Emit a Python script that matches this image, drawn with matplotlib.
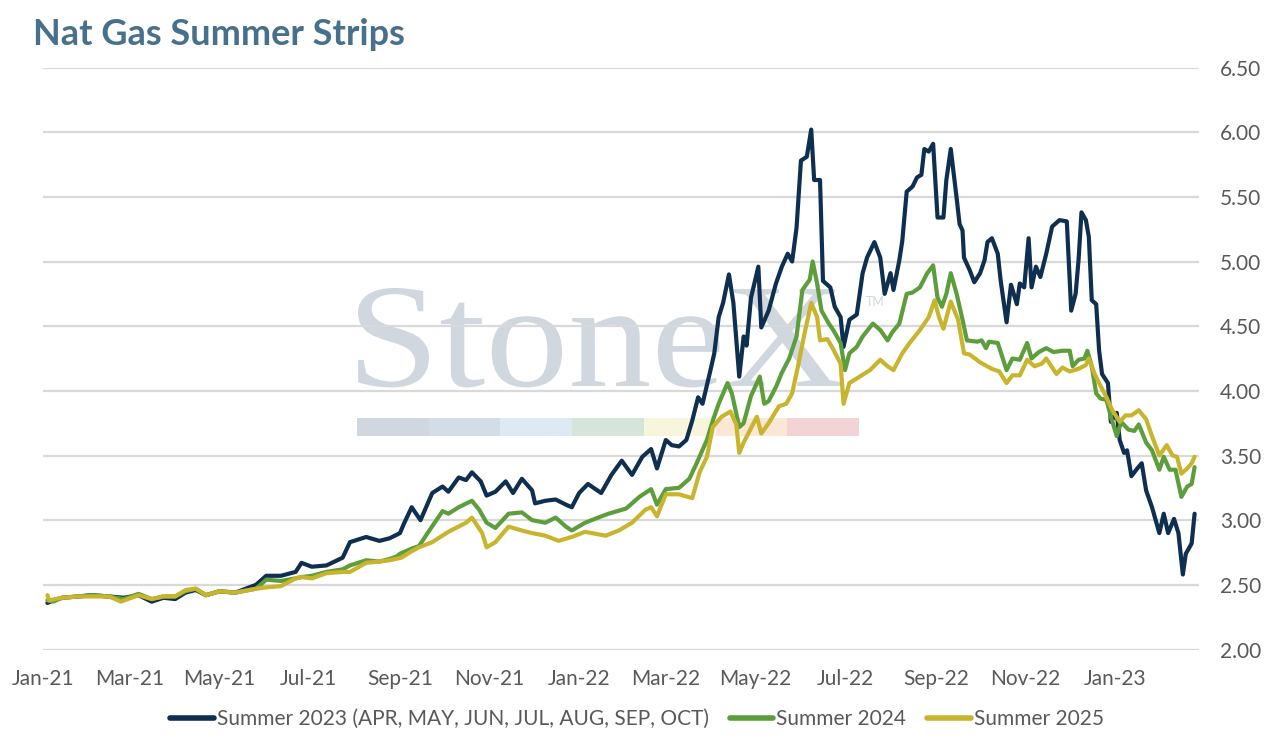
import matplotlib
matplotlib.use("Agg")
import matplotlib.pyplot as plt
import matplotlib.dates as mdates
from matplotlib.patches import Rectangle, PathPatch
from matplotlib.textpath import TextPath
from matplotlib.font_manager import FontProperties
from matplotlib.transforms import Affine2D
from matplotlib.ticker import FormatStrFormatter
import pandas as pd

# ---------------- data ----------------
title = "Nat Gas Summer Strips"
series_names = ["Summer 2023 (APR, MAY, JUN, JUL, AUG, SEP, OCT)", "Summer 2024", "Summer 2025"]

s23_dates = ["2021-01-04","2021-01-08","2021-01-14","2021-01-25","2021-02-03","2021-02-15","2021-02-25","2021-03-07",
    "2021-03-16","2021-03-24","2021-04-01","2021-04-08","2021-04-15","2021-04-22","2021-05-01","2021-05-12",
    "2021-05-26","2021-06-02","2021-06-12","2021-06-22","2021-06-26","2021-07-03","2021-07-13","2021-07-24",
    "2021-07-29","2021-08-09","2021-08-18","2021-08-25","2021-09-01","2021-09-04","2021-09-09","2021-09-15",
    "2021-09-23","2021-09-30","2021-10-04","2021-10-11","2021-10-16","2021-10-20","2021-10-26","2021-10-30",
    "2021-11-05","2021-11-12","2021-11-17","2021-11-23","2021-11-30","2021-12-02","2021-12-09","2021-12-16",
    "2021-12-23","2021-12-27","2022-01-01","2022-01-07","2022-01-16","2022-01-23","2022-01-30","2022-02-06",
    "2022-02-13","2022-02-19","2022-02-23","2022-03-01","2022-03-05","2022-03-10","2022-03-15","2022-03-19",
    "2022-03-23","2022-03-26","2022-03-31","2022-04-03","2022-04-06","2022-04-09","2022-04-13","2022-04-16",
    "2022-04-20","2022-04-23","2022-04-25","2022-04-28","2022-05-03","2022-05-05","2022-05-10","2022-05-15",
    "2022-05-19","2022-05-23","2022-05-26","2022-05-29","2022-06-01","2022-06-05","2022-06-08","2022-06-10",
    "2022-06-14","2022-06-16","2022-06-21","2022-06-24","2022-06-28","2022-06-30","2022-07-04","2022-07-09",
    "2022-07-13","2022-07-16","2022-07-21","2022-07-25","2022-07-28","2022-08-01","2022-08-03","2022-08-07",
    "2022-08-09","2022-08-12","2022-08-16","2022-08-19","2022-08-22","2022-08-24","2022-08-27","2022-08-30",
    "2022-09-02","2022-09-06","2022-09-08","2022-09-11","2022-09-15","2022-09-17","2022-09-19","2022-09-20",
    "2022-09-24","2022-09-27","2022-10-01","2022-10-04","2022-10-06","2022-10-09","2022-10-13","2022-10-15",
    "2022-10-19","2022-10-22","2022-10-26","2022-10-28","2022-10-31","2022-11-03","2022-11-05","2022-11-08",
    "2022-11-11","2022-11-15","2022-11-19","2022-11-24","2022-11-29","2022-12-02","2022-12-05","2022-12-07",
    "2022-12-09","2022-12-12","2022-12-14","2022-12-16","2022-12-19","2022-12-21","2022-12-23","2022-12-27",
    "2022-12-29","2023-01-02","2023-01-04","2023-01-07","2023-01-09","2023-01-12","2023-01-16","2023-01-19",
    "2023-01-22","2023-01-26","2023-01-31","2023-02-03","2023-02-06","2023-02-10","2023-02-13","2023-02-16",
    "2023-02-18","2023-02-22","2023-02-24"]
s23_values = [2.36,2.38,2.40,2.41,2.42,2.41,2.40,2.42,
    2.37,2.40,2.39,2.44,2.46,2.42,2.45,2.44,
    2.50,2.57,2.57,2.60,2.67,2.64,2.65,2.71,
    2.83,2.87,2.84,2.86,2.90,2.98,3.10,3.00,
    3.21,3.26,3.22,3.33,3.31,3.37,3.30,3.19,
    3.22,3.30,3.21,3.32,3.23,3.13,3.15,3.16,
    3.12,3.10,3.21,3.28,3.21,3.35,3.46,3.35,
    3.49,3.55,3.40,3.62,3.58,3.57,3.62,3.77,
    3.95,3.90,4.14,4.29,4.57,4.68,4.90,4.68,
    4.11,4.42,4.35,4.72,4.96,4.49,4.62,4.83,
    4.96,5.06,5.00,5.26,5.78,5.81,6.02,5.63,
    5.63,4.85,4.80,4.65,4.57,4.34,4.55,4.59,
    4.91,5.03,5.15,5.03,4.75,4.91,4.78,5.01,
    5.16,5.54,5.58,5.65,5.67,5.87,5.85,5.91,
    5.34,5.34,5.63,5.87,5.49,5.29,5.24,5.03,
    4.93,4.84,4.91,5.01,5.15,5.18,5.06,4.85,
    4.53,4.82,4.67,4.83,4.80,5.18,4.80,4.96,
    4.88,5.06,5.27,5.32,5.31,4.62,4.75,5.01,
    5.38,5.32,5.19,4.70,4.67,4.31,4.13,4.06,
    3.76,3.83,3.62,3.52,3.54,3.34,3.40,3.44,
    3.23,3.10,2.90,3.05,2.90,3.01,2.90,2.58,
    2.74,2.82,3.05]

s24_dates = ["2021-01-04","2021-01-08","2021-01-14","2021-01-25","2021-02-03","2021-02-15","2021-02-25","2021-03-07",
    "2021-03-16","2021-03-24","2021-04-01","2021-04-08","2021-04-15","2021-04-22","2021-05-01","2021-05-12",
    "2021-05-26","2021-06-02","2021-06-12","2021-06-22","2021-06-26","2021-07-03","2021-07-13","2021-07-24",
    "2021-07-29","2021-08-09","2021-08-18","2021-08-25","2021-08-30","2021-09-01","2021-09-09","2021-09-14",
    "2021-09-21","2021-09-30","2021-10-04","2021-10-11","2021-10-20","2021-10-25","2021-10-30","2021-11-05",
    "2021-11-14","2021-11-23","2021-11-30","2021-12-09","2021-12-16","2021-12-23","2021-12-27","2022-01-05",
    "2022-01-14","2022-01-21","2022-02-02","2022-02-11","2022-02-19","2022-02-23","2022-03-01","2022-03-10",
    "2022-03-17","2022-03-22","2022-03-29","2022-04-02","2022-04-06","2022-04-12","2022-04-15","2022-04-20",
    "2022-04-23","2022-04-28","2022-05-04","2022-05-07","2022-05-10","2022-05-15","2022-05-19","2022-05-24",
    "2022-05-29","2022-06-02","2022-06-07","2022-06-09","2022-06-12","2022-06-15","2022-06-20","2022-06-23",
    "2022-06-28","2022-07-01","2022-07-04","2022-07-09","2022-07-13","2022-07-20","2022-07-25","2022-07-30",
    "2022-08-02","2022-08-07","2022-08-12","2022-08-16","2022-08-21","2022-08-26","2022-08-30","2022-09-02",
    "2022-09-05","2022-09-08","2022-09-11","2022-09-15","2022-09-19","2022-09-22","2022-09-29","2022-10-02",
    "2022-10-05","2022-10-07","2022-10-13","2022-10-19","2022-10-23","2022-10-28","2022-11-02","2022-11-05",
    "2022-11-10","2022-11-15","2022-11-20","2022-11-26","2022-12-01","2022-12-03","2022-12-07","2022-12-11",
    "2022-12-13","2022-12-16","2022-12-19","2022-12-22","2022-12-26","2022-12-29","2023-01-02","2023-01-05",
    "2023-01-10","2023-01-14","2023-01-17","2023-01-22","2023-01-26","2023-01-31","2023-02-03","2023-02-07",
    "2023-02-11","2023-02-15","2023-02-19","2023-02-22","2023-02-24"]
s24_values = [2.38,2.37,2.40,2.41,2.42,2.41,2.39,2.43,
    2.39,2.41,2.41,2.45,2.47,2.42,2.45,2.44,
    2.47,2.54,2.53,2.55,2.56,2.57,2.60,2.62,
    2.65,2.69,2.68,2.70,2.72,2.74,2.78,2.80,
    2.92,3.07,3.05,3.10,3.15,3.08,2.98,2.94,
    3.05,3.06,3.00,2.98,3.02,2.95,2.92,2.98,
    3.02,3.05,3.09,3.18,3.24,3.12,3.24,3.25,
    3.32,3.44,3.62,3.77,3.90,4.06,3.98,3.72,
    3.75,3.96,4.11,3.90,3.92,4.03,4.14,4.25,
    4.42,4.78,4.86,5.00,4.83,4.62,4.52,4.47,
    4.37,4.16,4.29,4.34,4.42,4.52,4.47,4.39,
    4.45,4.52,4.75,4.76,4.80,4.91,4.97,4.72,
    4.65,4.75,4.91,4.75,4.55,4.39,4.38,4.39,
    4.33,4.38,4.37,4.16,4.25,4.24,4.37,4.25,
    4.30,4.33,4.30,4.31,4.31,4.19,4.24,4.25,
    4.31,4.19,3.98,3.94,3.93,3.80,3.65,3.76,
    3.70,3.69,3.74,3.60,3.54,3.39,3.49,3.39,
    3.39,3.18,3.26,3.28,3.41]

s25_dates = ["2021-01-04","2021-01-05","2021-01-14","2021-01-25","2021-02-03","2021-02-15","2021-02-23","2021-03-07",
    "2021-03-16","2021-03-24","2021-04-01","2021-04-08","2021-04-15","2021-04-22","2021-05-01","2021-05-12",
    "2021-05-26","2021-06-02","2021-06-12","2021-06-22","2021-06-26","2021-07-03","2021-07-13","2021-07-24",
    "2021-07-29","2021-08-09","2021-08-18","2021-08-25","2021-09-02","2021-09-09","2021-09-14","2021-09-23",
    "2021-10-04","2021-10-16","2021-10-20","2021-10-27","2021-10-30","2021-11-05","2021-11-14","2021-11-23",
    "2021-11-30","2021-12-09","2021-12-18","2021-12-27","2022-01-05","2022-01-19","2022-01-28","2022-02-06",
    "2022-02-15","2022-02-19","2022-02-23","2022-03-01","2022-03-10","2022-03-19","2022-03-24","2022-03-29",
    "2022-04-02","2022-04-08","2022-04-14","2022-04-18","2022-04-20","2022-04-23","2022-05-02","2022-05-05",
    "2022-05-10","2022-05-17","2022-05-22","2022-05-26","2022-05-30","2022-06-03","2022-06-08","2022-06-12",
    "2022-06-14","2022-06-19","2022-06-23","2022-06-28","2022-06-30","2022-07-04","2022-07-11","2022-07-18",
    "2022-07-25","2022-07-30","2022-08-03","2022-08-09","2022-08-14","2022-08-21","2022-08-27","2022-08-31",
    "2022-09-03","2022-09-06","2022-09-11","2022-09-16","2022-09-20","2022-09-24","2022-10-01","2022-10-09",
    "2022-10-14","2022-10-19","2022-10-23","2022-10-28","2022-11-02","2022-11-07","2022-11-12","2022-11-15",
    "2022-11-22","2022-11-26","2022-12-01","2022-12-07","2022-12-12","2022-12-14","2022-12-18","2022-12-21",
    "2022-12-26","2022-12-30","2023-01-04","2023-01-08","2023-01-12","2023-01-17","2023-01-22","2023-01-26",
    "2023-01-31","2023-02-05","2023-02-09","2023-02-12","2023-02-15","2023-02-19","2023-02-22","2023-02-24"]
s25_values = [2.42,2.38,2.40,2.41,2.41,2.41,2.37,2.42,
    2.39,2.41,2.41,2.46,2.47,2.42,2.45,2.44,
    2.47,2.48,2.49,2.55,2.56,2.55,2.59,2.60,
    2.60,2.67,2.68,2.69,2.71,2.76,2.79,2.83,
    2.91,2.98,3.02,2.90,2.79,2.83,2.95,2.92,
    2.90,2.88,2.84,2.87,2.91,2.88,2.92,2.98,
    3.08,3.10,3.03,3.20,3.20,3.17,3.37,3.49,
    3.72,3.80,3.84,3.74,3.52,3.60,3.80,3.67,
    3.75,3.88,3.90,3.98,4.19,4.42,4.68,4.57,
    4.39,4.40,4.32,4.21,3.90,4.06,4.11,4.16,
    4.24,4.19,4.16,4.29,4.37,4.47,4.57,4.70,
    4.57,4.48,4.69,4.55,4.29,4.28,4.22,4.17,
    4.15,4.06,4.12,4.12,4.24,4.19,4.21,4.25,
    4.13,4.18,4.15,4.17,4.20,4.25,4.13,4.06,
    3.95,3.85,3.76,3.81,3.81,3.85,3.78,3.65,
    3.50,3.58,3.50,3.49,3.36,3.40,3.44,3.49]

y_ticks = [2.00, 2.50, 3.00, 3.50, 4.00, 4.50, 5.00, 5.50, 6.00, 6.50]
x_start, x_end = "2021-01-01", "2023-02-27"

# ---------------- style ----------------
colors = ["#0E2F50", "#5C9E3C", "#C9B42E"]
text_grey = "#595959"
title_color = "#46708B"
grid_color = "#D9D9D9"
wm_color = "#D0D7DF"
bar_colors = ["#D1D7DF", "#D3DDE7", "#DDEAF3", "#D6E5DB", "#F8F5DD", "#FAE7D5", "#F2D4D7"]

plt.rcParams["font.family"] = ["Lato", "DejaVu Sans"]

W, H = 1274, 739
fig = plt.figure(figsize=(W / 100, H / 100), dpi=100)
ax_l, ax_r, ax_t, ax_b = 43, 1199, 67.5, 649.5
ax = fig.add_axes([ax_l / W, 1 - ax_b / H, (ax_r - ax_l) / W, (ax_b - ax_t) / H])

series = [(s23_dates, s23_values), (s24_dates, s24_values), (s25_dates, s25_values)]
for (d, v), c, name in zip(series, colors, series_names):
    ax.plot(pd.to_datetime(d), v, color=c, lw=3.0, label=name, zorder=3,
            solid_joinstyle="round", solid_capstyle="round")

ax.set_ylim(y_ticks[0], y_ticks[-1])
ax.set_xlim(pd.Timestamp(x_start), pd.Timestamp(x_end))
ax.set_yticks(y_ticks)
ax.yaxis.set_major_formatter(FormatStrFormatter("%.2f"))
ax.yaxis.tick_right()
ax.xaxis.set_major_locator(mdates.MonthLocator(bymonth=[1, 3, 5, 7, 9, 11]))
ax.xaxis.set_major_formatter(mdates.DateFormatter("%b-%y"))
ax.tick_params(axis="y", length=0, pad=15, labelsize=15, labelcolor=text_grey)
ax.tick_params(axis="x", length=0, pad=14, labelsize=15, labelcolor=text_grey)
for s in ax.spines.values():
    s.set_visible(False)
ax.set_axisbelow(True)
ax.grid(axis="y", color=grid_color, lw=1.6, zorder=0.5)
ax.grid(axis="x", visible=False)

def fx(px):
    return px / W
def fy(py):
    return 1 - py / H

# watermark (behind lines and gridlines), placed in display pixels
tp = TextPath((0, 0), "StoneX", size=148, prop=FontProperties(family="Liberation Serif"))
ext = tp.get_extents()
wm_left, wm_right, wm_base = 358, 842, 386
sx = (wm_right - wm_left) / ext.width
wm_tr = Affine2D().translate(-ext.x0, 0).scale(sx, 1.0).translate(wm_left, H - wm_base)
ax.add_patch(PathPatch(tp, transform=wm_tr, facecolor=wm_color, edgecolor="none",
                       zorder=0.2, clip_on=False))
ax.text(fx(866), fy(306), "TM", transform=fig.transFigure, fontsize=9,
        color=wm_color, va="baseline", ha="left", zorder=0.2, clip_on=False)
bx0, bx1, by0, by1 = 357, 859, 418, 436
seg = (bx1 - bx0) / len(bar_colors)
for i, bc in enumerate(bar_colors):
    ax.add_patch(Rectangle((fx(bx0 + i * seg), fy(by1)), seg / W, (by1 - by0) / H,
                           transform=fig.transFigure, facecolor=bc, edgecolor="none",
                           zorder=0.2, clip_on=False))

fig.text(fx(33), fy(45), title, fontsize=26, fontweight="bold", color=title_color,
         va="baseline", ha="left")

leg = fig.legend(loc="center", bbox_to_anchor=(0.5, fy(719)), ncol=3, frameon=False,
                 fontsize=15, handlelength=2.1, handletextpad=0.15, columnspacing=1.0,
                 labelcolor=text_grey)
for h in leg.get_lines():
    h.set_linewidth(4)

fig.savefig("out.png", dpi=100)
